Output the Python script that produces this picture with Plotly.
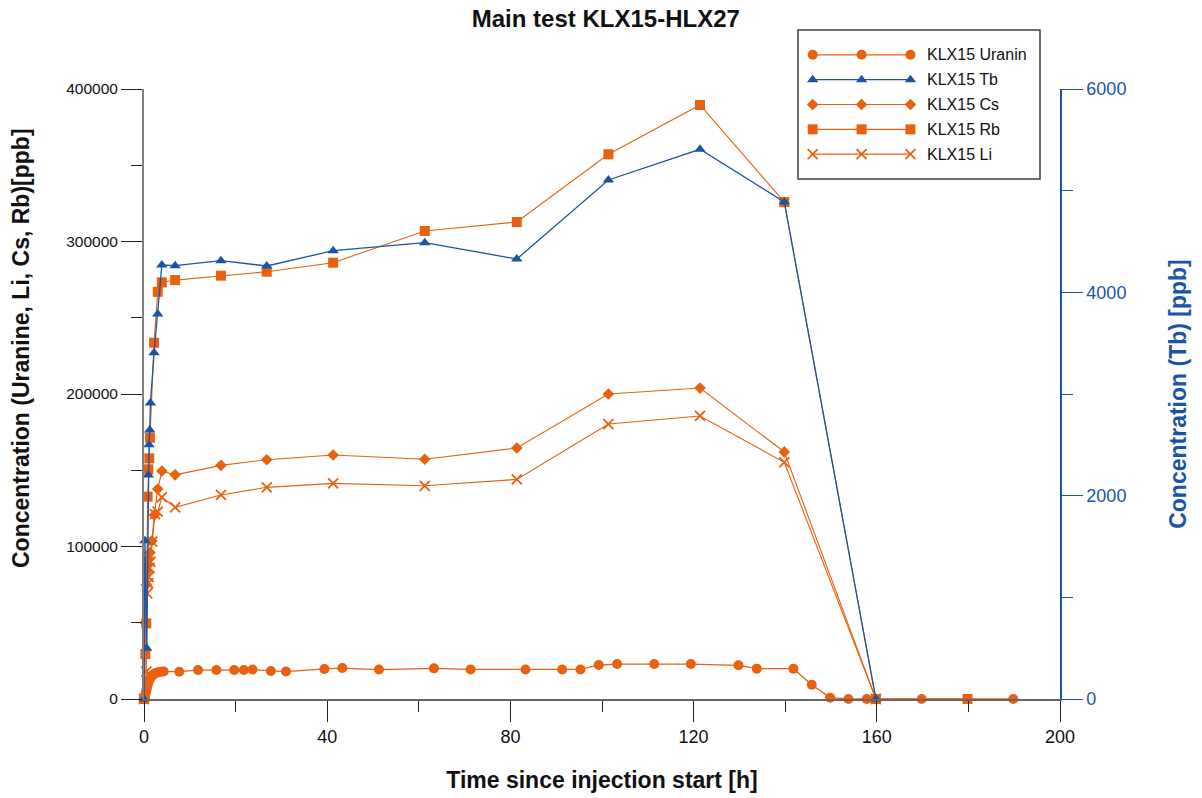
import plotly.graph_objects as go

# ---------------- data ----------------
# Uranine (left axis, ppb)
t_uranin = [0, 0.1, 0.2, 0.3, 0.4, 0.5, 0.6, 0.7, 0.8, 0.9, 1.0, 1.2, 1.4, 1.6, 1.8, 2.0, 2.3, 2.6,
            3.0, 3.4, 3.8, 4.3, 7.7, 11.8, 15.8, 19.7, 21.8, 23.7, 27.7, 31.0, 39.4, 43.3, 51.3,
            63.3, 71.3, 83.3, 91.3, 95.3, 99.3, 103.3, 111.4, 119.4, 129.8, 133.8, 141.8, 145.8,
            149.8, 153.8, 157.8, 169.8, 189.8]
uranin = [0, 500, 1500, 2800, 4200, 5600, 7000, 8300, 9500, 10500, 11400, 12800, 13900, 14800,
          15500, 16000, 16600, 17000, 17400, 17700, 17900, 18000, 17900, 19000, 19000, 19000,
          19000, 19300, 18400, 18000, 19700, 20300, 19300, 20100, 19400, 19400, 19400, 19400,
          22300, 22900, 22900, 22900, 22100, 19900, 19900, 9400, 900, 0, 0, 0, 0]

# Tb (right axis, ppb)
t_tb = [0, 0.2, 0.6, 0.95, 1.1, 1.25, 1.4, 2.2, 3.0, 3.9, 6.8, 16.8, 26.8, 41.3, 61.3, 81.4,
        101.4, 121.4, 139.8, 159.8]
tb = [0, 1557, 500, 2203, 2500, 2646, 2911, 3406, 3787, 4269, 4262, 4311, 4259, 4410, 4488,
      4328, 5105, 5407, 4889, 0]

# Cs (left axis, ppb)
t_cs = [0, 0.3, 0.5, 0.7, 0.9, 1.1, 1.3, 1.7, 2.25, 3.0, 3.9, 6.8, 16.8, 26.8, 41.3, 61.3, 81.4,
        101.4, 121.4, 139.8, 159.8]
cs = [0, 50000, 75000, 84000, 88000, 92000, 96000, 103600, 120650, 137700, 149500, 147000,
      153200, 156900, 160000, 157200, 164600, 200000, 203900, 162000, 0]

# Rb (left axis, ppb)
t_rb = [0, 0.3, 0.5, 0.8, 0.95, 1.15, 1.3, 2.2, 3.0, 3.9, 6.8, 16.8, 26.8, 41.3, 61.3, 81.4,
        101.4, 121.4, 139.8, 159.8, 179.8]
rb = [0, 29500, 49600, 132700, 150600, 157800, 171300, 233600, 267000, 273200, 274700, 277600,
      280200, 286100, 306900, 312800, 357200, 389500, 325900, 0, 0]

# Li (left axis, ppb)
t_li = [0, 0.5, 0.7, 0.9, 1.0, 1.2, 1.4, 1.8, 2.4, 3.0, 3.9, 6.8, 16.8, 26.8, 41.3, 61.3, 81.4,
        101.4, 121.4, 139.8, 159.8]
li = [0, 18000, 69300, 75900, 80000, 86000, 90000, 103200, 121300, 122800, 132300, 125700,
      133800, 138800, 141400, 139800, 144000, 180300, 185600, 155200, 0]

series_names = ["KLX15 Uranin", "KLX15 Tb", "KLX15 Cs", "KLX15 Rb", "KLX15 Li"]

x_ticks = [0, 40, 80, 120, 160, 200]
y_left_ticks = [0, 100000, 200000, 300000, 400000]
y_right_ticks = [0, 2000, 4000, 6000]

# ---------------- style ----------------
ORANGE = "#E9610F"
BLUE = "#1A55A3"
FONT = "Arial, Liberation Sans, sans-serif"

styles = {
    "KLX15 Uranin": dict(symbol="circle", size=10, color=ORANGE, lw=1.3),
    "KLX15 Tb": dict(symbol="triangle-up", size=10, color=BLUE, lw=1.3),
    "KLX15 Cs": dict(symbol="diamond", size=9, color=ORANGE, lw=1.1),
    "KLX15 Rb": dict(symbol="square", size=10, color=ORANGE, lw=1.1),
    "KLX15 Li": dict(symbol="x-thin", size=10, color=ORANGE, lw=1.1),
}

def marker_for(name):
    s = styles[name]
    m = dict(symbol=s["symbol"], size=s["size"], color=s["color"])
    if s["symbol"] == "x-thin":
        m["line"] = dict(color=s["color"], width=1.8)
    else:
        m["line"] = dict(width=0)
    return m

fig = go.Figure()

data = [
    ("KLX15 Uranin", t_uranin, uranin, "y"),
    ("KLX15 Tb", t_tb, tb, "y2"),
    ("KLX15 Cs", t_cs, cs, "y"),
    ("KLX15 Rb", t_rb, rb, "y"),
    ("KLX15 Li", t_li, li, "y"),
]
for name, tx, vy, ax in data:
    s = styles[name]
    fig.add_trace(go.Scatter(
        x=tx, y=vy, name=name, mode="lines+markers", yaxis=ax,
        line=dict(color=s["color"], width=s["lw"]),
        marker=marker_for(name), cliponaxis=False, showlegend=False,
    ))

# ---------------- custom legend (three markers per sample, as in reference) ----------------
leg_sample_x = [0, 1, 2]
for i, name in enumerate(series_names):
    s = styles[name]
    fig.add_trace(go.Scatter(
        x=leg_sample_x, y=[i] * 3, mode="lines+markers", xaxis="x3", yaxis="y3",
        line=dict(color=s["color"], width=s["lw"]), marker=marker_for(name),
        showlegend=False, hoverinfo="skip", cliponaxis=False,
    ))
    fig.add_annotation(x=2.3, y=i, xref="x3", yref="y3", text=name, showarrow=False,
                       xanchor="left", yanchor="middle",
                       font=dict(family=FONT, size=16, color="#111111"))

H_TOP = 20
H_BOT = 99
plot_h = 798 - H_TOP - H_BOT  # 679
main_top = (699 - 89) / plot_h
leg_y0 = (699 - 179) / plot_h
leg_y1 = (699 - 30) / plot_h
leg_x0 = (798 - 144) / 916
leg_x1 = (1040 - 144) / 916

fig.add_shape(type="rect", xref="paper", yref="paper", x0=leg_x0, x1=leg_x1, y0=leg_y0, y1=leg_y1,
              line=dict(color="#404040", width=1.5), fillcolor="rgba(0,0,0,0)", layer="above")

# left axis title (positioned like the reference, slightly above centre)
fig.add_annotation(text="<b>Concentration (Uranine, Li, Cs, Rb)[ppb]</b>", textangle=-90,
                   xref="paper", yref="paper", x=(21 - 144) / 916, y=(699 - 348) / plot_h,
                   xanchor="center", yanchor="middle", showarrow=False,
                   font=dict(family=FONT, size=23, color="#111111"))

tickfont = dict(family=FONT, size=18, color="#111111")
fig.update_layout(
    width=1202, height=798,
    margin=dict(l=144, r=142, t=H_TOP, b=H_BOT, pad=0, autoexpand=False),
    paper_bgcolor="white", plot_bgcolor="white",
    title=dict(text="<b>Main test KLX15-HLX27</b>", x=0.504, xanchor="center", y=0.977, yanchor="middle",
               font=dict(family=FONT, size=24, color="#111111")),
    xaxis=dict(range=[0, 200], tickvals=x_ticks, showgrid=False, zeroline=False,
               showline=True, linecolor="#666666", linewidth=1.5,
               ticks="outside", ticklen=21, tickwidth=1.2, tickcolor="#222222",
               minor=dict(dtick=20, ticks="outside", ticklen=11, tickwidth=1.2, tickcolor="#222222"),
               tickfont=tickfont,
               title=dict(text="<b>Time since injection start [h]</b>", standoff=26,
                          font=dict(family=FONT, size=23, color="#111111"))),
    yaxis=dict(range=[0, 400000], tickvals=y_left_ticks, domain=[0, main_top], showgrid=False,
               zeroline=False, showline=True, linecolor="#7F7F7F", linewidth=2,
               ticks="outside", ticklen=21, tickwidth=1.2, tickcolor="#222222",
               minor=dict(dtick=50000, ticks="outside", ticklen=11, tickwidth=1.2, tickcolor="#222222"),
               tickfont=dict(family=FONT, size=15.5, color="#111111"), tickformat="d"),
    yaxis2=dict(range=[0, 6000], tickvals=y_right_ticks, overlaying="y", side="right",
                showgrid=False, zeroline=False, showline=True, linecolor=BLUE, linewidth=1.5,
                ticks="outside", ticklen=21, tickwidth=1.2, tickcolor=BLUE,
                minor=dict(dtick=1000, ticks="outside", ticklen=11, tickwidth=1.2, tickcolor=BLUE),
                tickfont=dict(family=FONT, size=18, color=BLUE), tickformat="d",
                title=dict(text="<b>Concentration (Tb) [ppb]</b>", standoff=45,
                           font=dict(family=FONT, size=23, color=BLUE))),
    xaxis3=dict(domain=[leg_x0, leg_x1], range=[-0.3, 4.65], visible=False, anchor="y3", fixedrange=True),
    yaxis3=dict(domain=[leg_y0, leg_y1], range=[5.0, -1.0], visible=False, anchor="x3", fixedrange=True),
    showlegend=False,
)

fig.write_html("out.html", config={"displayModeBar": False},
               post_script="document.body.style.margin='0';document.body.style.overflow='hidden';")
